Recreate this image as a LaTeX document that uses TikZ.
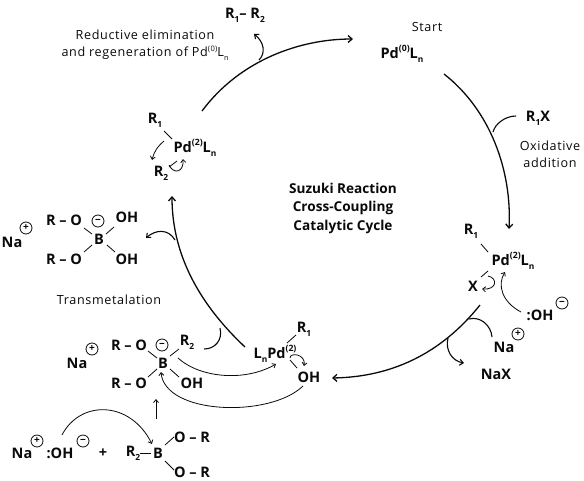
\documentclass[tikz,border=0pt]{standalone}
\usepackage{fontspec}
\setmainfont{Open Sans}
\newfontfamily\spacedfont[LetterSpace=5]{Open Sans}
\usetikzlibrary{arrows.meta, positioning, calc}
\definecolor{InkBlack}{RGB}{10, 10, 10}
\newcommand{\supr}[1]{\raisebox{0.42em}{\scalebox{0.6}{#1}}}
\newcommand{\subr}[1]{\raisebox{-0.3em}{\scalebox{0.58}{#1}}}
\begin{document}
\begin{tikzpicture}[
                    x=1pt, y=-1pt,
                    lab/.style={inner sep=0pt, font=\fontsize{12.6}{17}\spacedfont, align=center, text=InkBlack},
                    chem/.style={inner sep=0pt, font=\fontsize{14.5}{14}\selectfont\bfseries, text=InkBlack},
                    title/.style={inner sep=0pt, font=\fontsize{13.6}{18.5}\selectfont\bfseries, align=center, text=InkBlack},
                    ion/.style={circle, draw=InkBlack, line width=0.8pt, inner sep=0pt, minimum size=12pt, font=\fontsize{10}{10}\selectfont\bfseries, text=InkBlack},
                    cycle/.style={draw=InkBlack, line width=1.3pt, -{Straight Barb[length=4pt,width=7pt]}},
                    side/.style={draw=InkBlack, line width=1.1pt, -{Straight Barb[length=3.5pt,width=6pt]}},
                    thinarrow/.style={draw=InkBlack, line width=0.8pt, -{Straight Barb[length=3pt,width=5pt]}},
                    plain/.style={draw=InkBlack, line width=1.1pt},
                    bond/.style={draw=InkBlack, line width=0.8pt}
                ]
                    \useasboundingbox (0,0) rectangle (584,480);
                    \fill[white] (0,0) rectangle (584,480);
                    % labels
                    \node[lab] (reductive) at (145,45) {Reductive elimination\\and regeneration of Pd\supr{(0)}L\subr{n}};
                    \node[lab] (start) at (427,27) {Start};
                    \node[lab] (oxidative) at (550,154) {Oxidative\\addition};
                    \node[lab] (transmet) at (109,300) {Transmetalation};
                    \node[title] (suzuki) at (343,208) {Suzuki Reaction\\Cross-Coupling\\Catalytic Cycle};
                    % top
                    \node[chem] (r1r2) at (245,15) {R\subr{1}– R\subr{2}};
                    \node[chem] (pdzero) at (402,54) {Pd\supr{(0)}L\subr{n}};
                    \node[chem] (rx) at (538,118) {R\subr{1}X};
                    % left palladium
                    \node[chem] (r1a) at (155,120) {R\subr{1}};
                    \node[chem] (pda) at (195,148) {Pd\supr{(2)}L\subr{n}};
                    \node[chem] (r2a) at (161,173) {R\subr{2}};
                    % right palladium
                    \node[chem] (r1b) at (471,231) {R\subr{1}};
                    \node[chem] (pdb) at (513,261) {Pd\supr{(2)}L\subr{n}};
                    \node[chem] (xb) at (473,286) {X};
                    \node[chem] (ohb) at (540,315) {:OH};
                    \node[ion] (minusb) at (562,303) {−};
                    \node[chem] (nab) at (504,347) {Na};
                    \node[ion] (plusb) at (518,334) {+};
                    \node[chem] (nax) at (496,374) {NaX};
                    % borate top
                    \node[chem] (natop) at (12,242) {Na};
                    \node[ion] (plustop) at (26,228) {+};
                    \node[chem] (ro1) at (64,220) {R – O};
                    \node[chem] (ro2) at (64,259) {R – O};
                    \node[chem] (btop) at (99,239) {B};
                    \node[ion] (minustop) at (98,221) {−};
                    \node[chem] (oh1) at (127,217) {OH};
                    \node[chem] (oh2) at (127,259) {OH};
                    % borate bottom
                    \node[chem] (nabot) at (77,363) {Na};
                    \node[ion] (plusbot) at (92,349) {+};
                    \node[chem] (ro3) at (129,345) {R – O};
                    \node[chem] (ro4) at (129,383) {R – O};
                    \node[chem] (bbot) at (163,363) {B};
                    \node[ion] (minusbot) at (162,345) {−};
                    \node[chem] (r2bot) at (187,342) {R\subr{2}};
                    \node[chem] (ohbot) at (192,383) {OH};
                    % palladium with hydroxide
                    \node[chem] (pdc) at (275,354) {L\subr{n}Pd\supr{(2)}};
                    \node[chem] (r1c) at (304,329) {R\subr{1}};
                    \node[chem] (ohc) at (309,377) {OH};
                    % boronate ester
                    \node[chem] (nad) at (22,453) {Na};
                    \node[ion] (plusd) at (37,441) {+};
                    \node[chem] (ohd) at (60,453) {:OH};
                    \node[ion] (minusd) at (83,441) {−};
                    \node[chem] (plussign) at (103,453) {+};
                    \node[chem] (r2d) at (133,453) {R\subr{2}};
                    \node[chem] (bd) at (158,453) {B};
                    \node[chem] (ro5) at (192,437) {O – R};
                    \node[chem] (ro6) at (192,472) {O – R};
                    % cycle
                    \coordinate (c1s) at (202,111);
                    \coordinate (c1e) at (353,39);
                    \coordinate (c2s) at (444,74);
                    \coordinate (c2e) at (509,229);
                    \coordinate (c3s) at (480,305);
                    \coordinate (c3e) at (332,378);
                    \coordinate (c4s) at (245,347);
                    \coordinate (c4e) at (172,196);
                    \draw[cycle] (c1s) .. controls (240,60) and (300,39) .. (c1e);
                    \draw[cycle] (c2s) .. controls (490,110) and (512,170) .. (c2e);
                    \draw[cycle] (c3s) .. controls (440,355) and (390,377) .. (c3e);
                    \draw[cycle] (c4s) .. controls (195,300) and (172,250) .. (c4e);
                    % side arrows
                    \coordinate (j1) at (259,60);
                    \coordinate (j2) at (493,132);
                    \coordinate (j3) at (469,319);
                    \coordinate (j4) at (448,338);
                    \coordinate (j5) at (175,240);
                    \coordinate (j6) at (220,328);
                    \coordinate (a1) at (254,34);
                    \coordinate (a2) at (516,116);
                    \coordinate (a3) at (492,337);
                    \coordinate (a4) at (464,363);
                    \coordinate (a5) at (146,238);
                    \coordinate (a6) at (204,349);
                    \draw[side] (j1) .. controls (266,53) and (264,42) .. (a1);
                    \draw[plain] (j2) .. controls (495,124) and (505,116) .. (a2);
                    \draw[plain] (a3) .. controls (491,325) and (480,316) .. (j3);
                    \draw[side] (j4) .. controls (445,350) and (452,361) .. (a4);
                    \draw[side] (j5) .. controls (168,228) and (155,230) .. (a5);
                    \draw[plain] (j6) .. controls (223,340) and (215,349) .. (a6);
                    % bonds
                    \draw[bond] (164,131) -- (172,139);
                    \draw[bond] (177,161) -- (169,167);
                    \draw[bond] (481,244) -- (488,252);
                    \draw[bond] (488,271) -- (481,277);
                    \draw[bond] (287,343) -- (296,335);
                    \draw[bond] (290,360) -- (297,368);
                    \draw[bond] (84,228) -- (92,234);
                    \draw[bond] (106,234) -- (114,227);
                    \draw[bond] (84,252) -- (92,245);
                    \draw[bond] (107,245) -- (115,252);
                    \draw[bond] (148,351) -- (157,358);
                    \draw[bond] (170,356) -- (179,349);
                    \draw[bond] (148,377) -- (157,369);
                    \draw[bond] (170,369) -- (179,377);
                    \draw[bond] (165,445) -- (174,437);
                    \draw[bond] (165,461) -- (174,470);
                    \draw[bond] (140,453) -- (151,453);
                    % electron arrows
                    \draw[thinarrow] (164,141) .. controls (157,147) and (154,152) .. (152,160);
                    \draw[thinarrow] (169,165) .. controls (174,175) and (184,172) .. (183,159);
                    \draw[thinarrow] (488,276) .. controls (498,278) and (497,290) .. (482,289);
                    \draw[thinarrow] (521,312) .. controls (502,302) and (497,285) .. (505,272);
                    \draw[thinarrow] (290,358) .. controls (290,352) and (306,354) .. (304,366);
                    \draw[thinarrow] (178,358) .. controls (200,378) and (245,382) .. (276,364);
                    \draw[thinarrow] (303,386) .. controls (270,418) and (165,415) .. (161,372);
                    \draw[thinarrow] (62,435) .. controls (80,400) and (130,400) .. (152,444);
                    \draw[thinarrow] (156,419) -- (156,399);
                \end{tikzpicture}
\end{document}
